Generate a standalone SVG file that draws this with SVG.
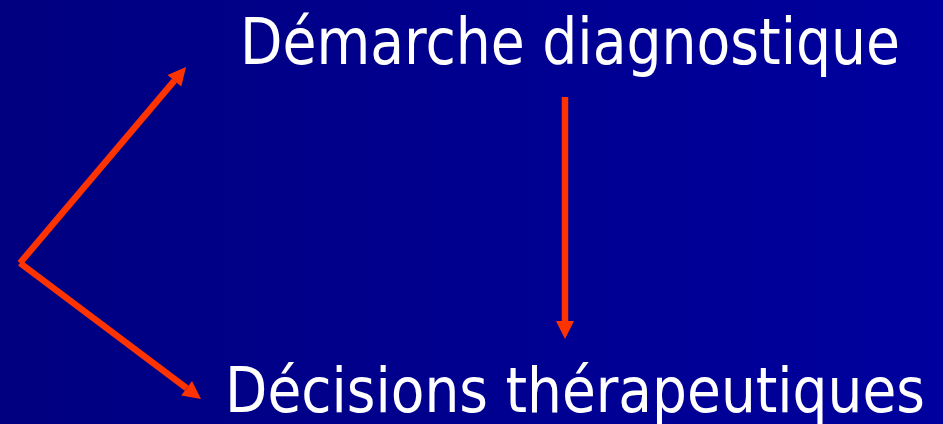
<svg xmlns="http://www.w3.org/2000/svg" width="943" height="424" viewBox="0 0 943 424">
  <defs>
    <linearGradient id="bg" x1="0" y1="0" x2="1" y2="0">
      <stop offset="0" stop-color="#000080"/>
      <stop offset="1" stop-color="#00009E"/>
    </linearGradient>
    <marker id="ah" markerUnits="userSpaceOnUse" viewBox="0 -9 18 18" markerWidth="18" markerHeight="18" refX="0" refY="0" orient="auto" overflow="visible">
      <path d="M0,-9 L18,0 L0,9 z" fill="#FF3300"/>
    </marker>
    <style>
      .lbl { font-family: "DejaVu Sans Condensed", "DejaVu Sans", Verdana, sans-serif; fill: #FFFFFF; }
      .arr { stroke: #FF3300; stroke-width: 6.5; fill: none; marker-end: url(#ah); }
    </style>
  </defs>
  <rect x="0" y="0" width="943" height="424" fill="url(#bg)"/>
  <g id="connectors">
    <line class="arr" x1="20" y1="263" x2="174.4" y2="80.7"/>
    <line class="arr" x1="20" y1="263" x2="186.6" y2="388.2"/>
    <line class="arr" x1="565" y1="97" x2="565" y2="321"/>
  </g>
  <g id="node-demarche">
    <text class="lbl" x="240" y="64" font-size="64" textLength="660" lengthAdjust="spacingAndGlyphs">Démarche diagnostique</text>
  </g>
  <g id="node-decisions">
    <text class="lbl" x="225" y="412" font-size="62" textLength="700" lengthAdjust="spacingAndGlyphs">Décisions thérapeutiques</text>
  </g>
</svg>
